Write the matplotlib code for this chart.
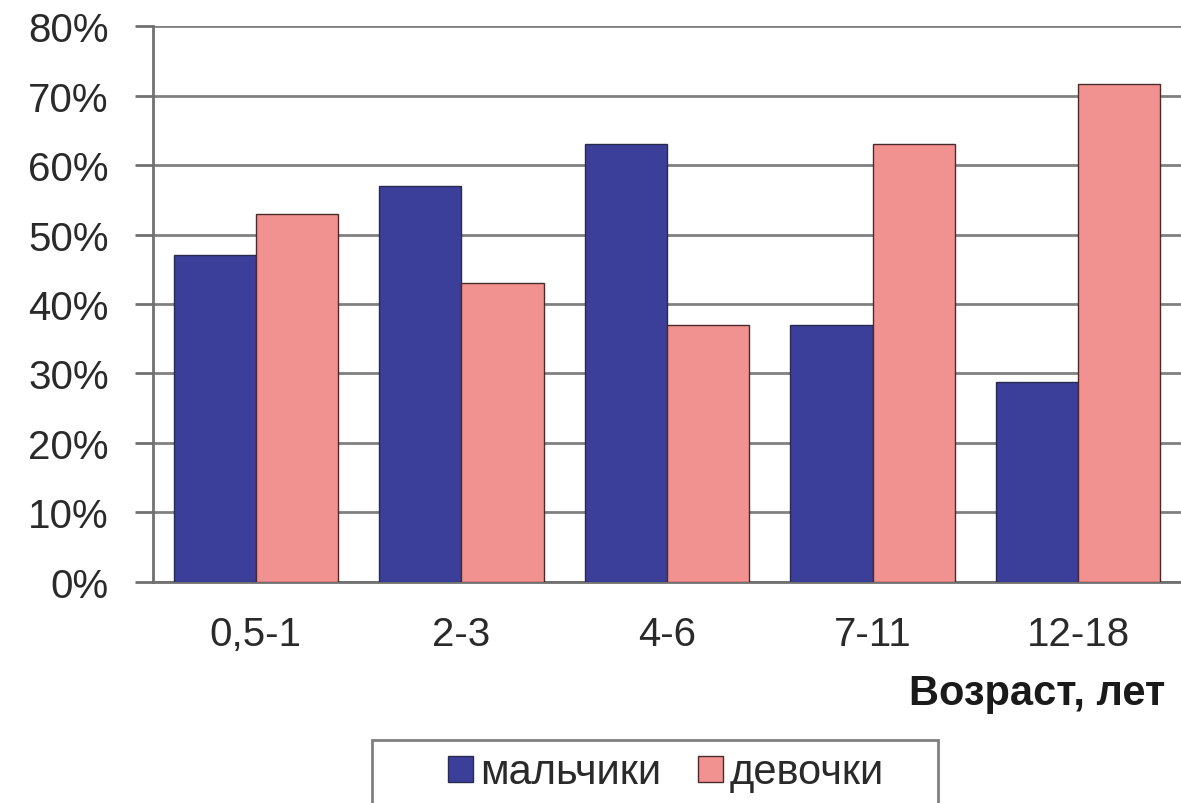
import numpy as np
import matplotlib.pyplot as plt
from matplotlib.patches import Rectangle
from matplotlib.ticker import PercentFormatter

plt.rcParams['font.family'] = ['Liberation Sans', 'DejaVu Sans']

# data
age_groups = ['0,5-1', '2-3', '4-6', '7-11', '12-18']
boys = [47, 57, 63, 37, 28.8]
girls = [53, 43, 37, 63, 71.6]

fig = plt.figure(figsize=(11.81, 8.04), dpi=100)
ax = fig.add_axes([0.1296, 0.2749, 0.8704, 0.6915])

x = np.arange(len(age_groups))
w = 0.4
ax.bar(x - w / 2, boys, w, color='#3c3f9a', edgecolor='#2a2a50', linewidth=1,
       label='мальчики', zorder=3)
ax.bar(x + w / 2, girls, w, color='#f29290', edgecolor='#4a2a2a', linewidth=1,
       label='девочки', zorder=3)

ax.set_xlim(-0.5, len(age_groups) - 0.5)
ax.set_ylim(0, 80)
ax.set_yticks(np.arange(0, 81, 10))
ax.yaxis.set_major_formatter(PercentFormatter(decimals=0))
ax.yaxis.grid(True, color='#808080', linewidth=2, zorder=0)

ax.set_xticks(x)
ax.set_xticklabels(age_groups)

for s in ['top', 'right']:
    ax.spines[s].set_visible(False)
for s in ['left', 'bottom']:
    ax.spines[s].set_color('#707070')
    ax.spines[s].set_linewidth(2)

ax.tick_params(axis='y', length=13, width=2, color='#707070', pad=19,
               labelsize=29, labelcolor='#2a2a2a')
ax.tick_params(axis='x', length=0, pad=24, labelsize=29, labelcolor='#2a2a2a')

fig.text(0.987, 0.137, 'Возраст, лет', ha='right', va='center',
         fontsize=30, fontweight='bold', color='#1a1a1a')

# legend box, Excel style with wide side padding (cut off at the bottom)
fig.patches.append(Rectangle((0.315, -0.02), 0.479, 0.0984, transform=fig.transFigure,
                             facecolor='white', edgecolor='#808080', linewidth=2))
leg = fig.legend(loc='center', bbox_to_anchor=(0.564, 0.038), ncol=2,
                 frameon=False, fontsize=30,
                 handlelength=0.6, handleheight=0.6, handletextpad=0.15,
                 columnspacing=0.9, borderpad=0, labelcolor='#2a2a2a')

fig.savefig('out.png', dpi=100)
